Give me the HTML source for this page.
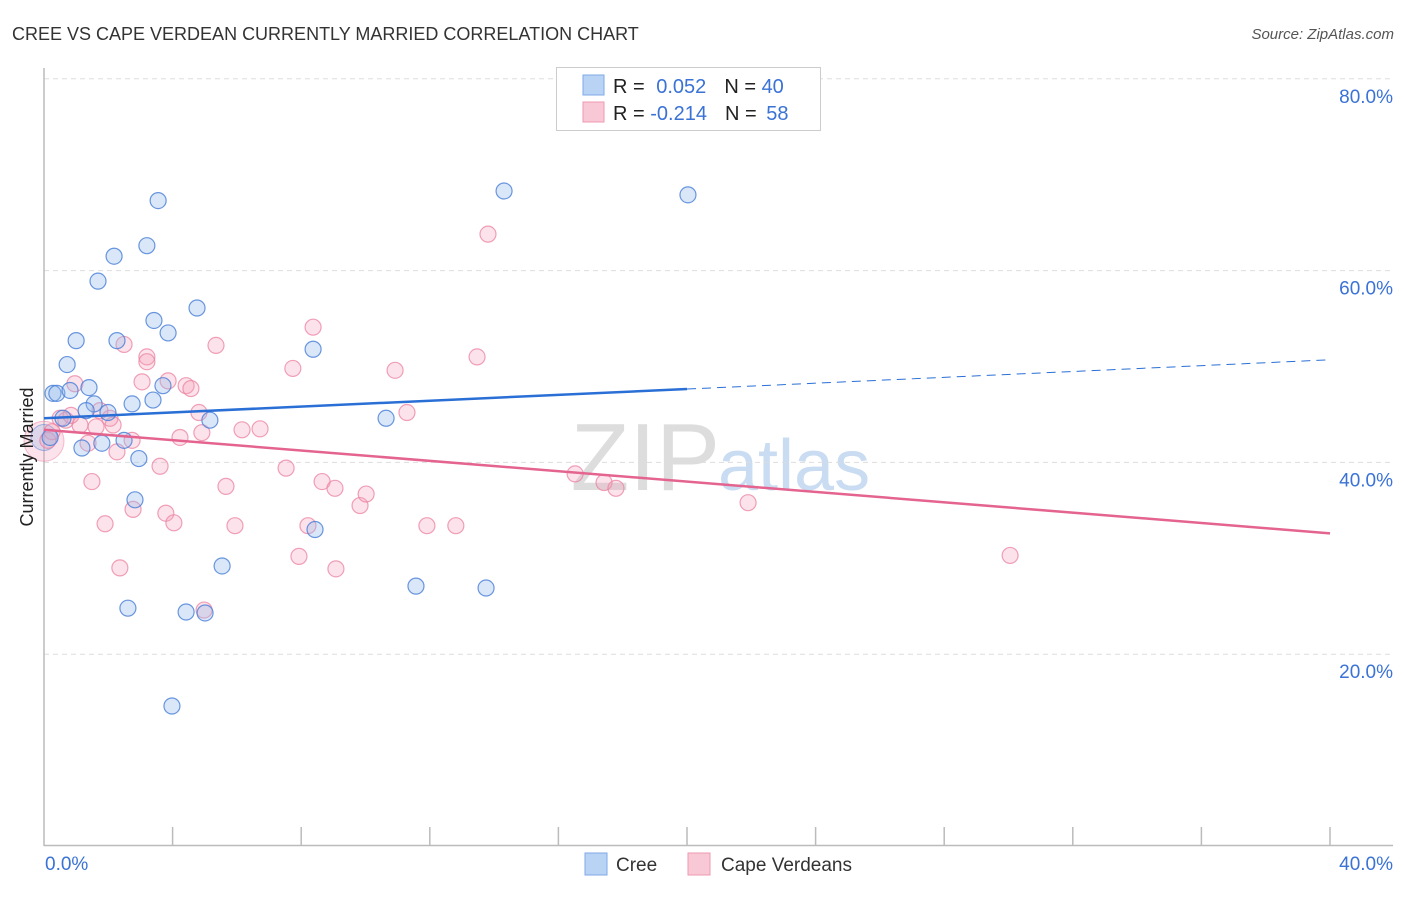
<!DOCTYPE html>
<html><head><meta charset="utf-8"><style>
body{margin:0;background:#fff;font-family:"Liberation Sans",sans-serif;}
svg text{font-family:"Liberation Sans",sans-serif;}
</style></head><body>
<svg id="chart" width="1406" height="892">
<text x="12" y="40" font-size="18" fill="#333">CREE VS CAPE VERDEAN CURRENTLY MARRIED CORRELATION CHART</text>
<text x="1394" y="39" font-size="15" fill="#555" font-style="italic" text-anchor="end">Source: ZipAtlas.com</text>
<text x="720" y="490" font-size="96" fill="#ddd" text-anchor="end" font-family="Liberation Serif">ZIP</text>
<text x="718" y="490" font-size="72" fill="#c9dcf2">atlas</text>
<g id="grid"></g>
<g id="axes"></g>
<g id="pts"></g>
<g id="trend"></g>
<text transform="translate(33,457) rotate(-90)" font-size="18" fill="#222" text-anchor="middle">Currently Married</text>
<g>
<rect x="556.5" y="67.5" width="264" height="63" fill="#fff" stroke="#ccc"/>
<rect x="583" y="75" width="21" height="20" fill="#b9d3f5" stroke="#7fa9e6"/>
<rect x="583" y="102" width="21" height="20" fill="#f9c8d6" stroke="#ee9ab3"/>
<text x="613" y="93" font-size="20" fill="#222">R = <tspan fill="#3a72d6" dx="6">0.052</tspan><tspan dx="18" fill="#222">N = </tspan><tspan fill="#3a72d6">40</tspan></text>
<text x="613" y="120" font-size="20" fill="#222">R = <tspan fill="#3a72d6">-0.214</tspan><tspan dx="18" fill="#222">N = </tspan><tspan fill="#3a72d6" dx="4">58</tspan></text>
</g>
<g>
<rect x="585" y="853" width="22" height="22" fill="#b9d3f5" stroke="#7fa9e6"/>
<text x="616" y="871" font-size="19" fill="#333">Cree</text>
<rect x="688" y="853" width="22" height="22" fill="#f9c8d6" stroke="#ee9ab3"/>
<text x="721" y="871" font-size="19" fill="#333">Cape Verdeans</text>
</g>
</svg>
<script>
const creeX=[0.28,0.40,0.81,0.72,1.0,1.40,1.56,1.31,1.99,1.18,1.80,2.49,2.18,1.68,3.55,3.20,3.42,3.86,2.27,3.70,3.39,2.74,4.76,5.16,2.95,2.83,2.61,4.42,5.01,5.54,3.98,8.37,8.43,10.64,11.57,13.75,14.31,20.03,0.19,0.59];
const creeY=[47.2,47.2,47.5,50.2,52.7,47.8,46.1,45.4,45.2,41.5,42.0,42.3,61.5,58.9,67.3,62.6,54.8,53.5,52.7,48.0,46.5,46.1,56.1,44.4,40.4,36.1,24.8,24.4,24.3,29.2,14.6,51.8,33.0,44.6,27.1,26.9,68.3,67.9,42.6,44.6];
const capeX=[0.12,0.50,0.68,0.96,1.12,1.62,1.49,1.90,2.36,2.05,2.49,2.74,2.27,3.05,3.20,3.20,3.61,3.79,4.04,2.77,3.86,4.23,4.42,4.57,4.82,4.98,4.91,5.35,5.66,5.94,6.16,6.72,7.53,7.74,7.93,8.21,8.37,8.65,9.05,9.08,9.83,10.02,10.92,11.29,11.91,12.81,13.47,13.81,16.52,17.42,17.79,21.90,30.05,1.74,1.37,2.15,0.25,0.84];
const capeY=[42.3,44.6,44.4,48.2,43.9,43.7,38.0,33.6,29.0,44.6,52.3,42.3,41.1,48.4,51.0,50.5,39.6,34.7,33.7,35.1,48.5,42.6,48.0,47.7,45.2,24.6,43.1,52.2,37.5,33.4,43.4,43.5,39.4,49.8,30.2,33.4,54.1,38.0,37.3,28.9,35.5,36.7,49.6,45.2,33.4,33.4,51.0,63.8,38.8,37.9,37.3,35.8,30.3,45.4,42.0,43.9,43.2,44.9];
const yTicks=[20,40,60,80];
const yTickLabels=["20.0%","40.0%","60.0%","80.0%"];
const creeTrend=[44.6,50.7];
const capeTrend=[43.4,32.6];
const creeSolidEnd=20;
const NS="http://www.w3.org/2000/svg";
const xs=v=>44+v*32.15, ys=v=>846-v*9.59;
function mk(t,a,p){const e=document.createElementNS(NS,t);for(const k in a)e.setAttribute(k,a[k]);p.appendChild(e);return e;}
const grid=document.getElementById('grid'),axes=document.getElementById('axes'),pts=document.getElementById('pts'),tr=document.getElementById('trend');
yTicks.forEach((t,i)=>{
 const l=mk('line',{x1:44,x2:1393,y1:ys(t),y2:ys(t),stroke:'#ddd','stroke-dasharray':'5,4'},grid);
 
 
 const tx=mk('text',{x:1393,y:ys(t)+24,'font-size':19,fill:'#3a72d6','text-anchor':'end'},grid);
 tx.textContent=yTickLabels[i];
 
 
});
mk('line',{x1:44,x2:44,y1:68,y2:846,stroke:'#bbb','stroke-width':1.5},axes);
mk('line',{x1:44,x2:1393,y1:845.5,y2:845.5,stroke:'#bbb','stroke-width':1.5},axes);
for(let i=1;i<=10;i++){mk('line',{x1:xs(i*4),x2:xs(i*4),y1:827,y2:846,stroke:'#bbb','stroke-width':1.5},axes);}
let t0=mk('text',{x:45,y:870,'font-size':19,fill:'#3a72d6'},axes);t0.textContent='0.0%';


let t1=mk('text',{x:1393,y:870,'font-size':19,fill:'#3a72d6','text-anchor':'end'},axes);t1.textContent='40.0%';


mk('circle',{cx:xs(0),cy:ys(42.2),r:20,fill:'rgba(245,160,185,0.3)',stroke:'rgba(235,130,160,0.5)'},pts);
mk('circle',{cx:xs(0),cy:ys(42.6),r:13,fill:'rgba(150,185,235,0.3)',stroke:'rgba(80,130,215,0.5)'},pts);
capeX.forEach((x,i)=>{const c=mk('circle',{cx:xs(x),cy:ys(capeY[i]),r:8,fill:'rgba(245,160,185,0.3)',stroke:'rgba(235,130,160,0.75)','stroke-width':1.2},pts);
 
 });
creeX.forEach((x,i)=>{const c=mk('circle',{cx:xs(x),cy:ys(creeY[i]),r:8,fill:'rgba(150,185,235,0.35)',stroke:'rgba(70,125,215,0.8)','stroke-width':1.2},pts);
 
 });
const cy=v=>creeTrend[0]+(creeTrend[1]-creeTrend[0])*v/40;
let l1=mk('line',{x1:xs(0),y1:ys(cy(0)),x2:xs(creeSolidEnd),y2:ys(cy(creeSolidEnd)),stroke:'#2a6fd6','stroke-width':2.5},tr);


let l2=mk('line',{x1:xs(creeSolidEnd),y1:ys(cy(creeSolidEnd)),x2:xs(40),y2:ys(cy(40)),stroke:'#2a6fd6','stroke-width':1,'stroke-dasharray':'9,6'},tr);


let l3=mk('line',{x1:xs(0),y1:ys(capeTrend[0]),x2:xs(40),y2:ys(capeTrend[1]),stroke:'#e4648f','stroke-width':2.5},tr);


</script>
</body></html>
